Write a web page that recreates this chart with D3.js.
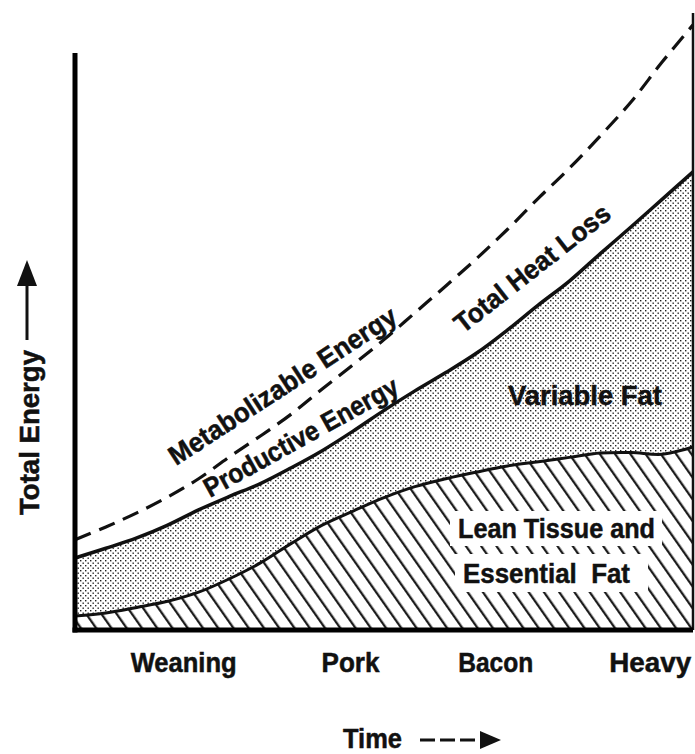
<!DOCTYPE html>
<html>
<head>
<meta charset="utf-8">
<script src="https://cdn.jsdelivr.net/npm/d3@7"></script>
<style>
  html, body { margin: 0; padding: 0; background: #fff; }
  svg { display: block; }
  text { font-family: "Liberation Sans", Arial, Helvetica, sans-serif; font-weight: bold; fill: #111; stroke: #111; stroke-width: 0.5; }
</style>
</head>
<body>
<svg id="chart" width="695" height="754"></svg>
<script>
// time axis (arbitrary units, 0 = birth, 100 = heavy market weight)
const time = [0, 5, 10, 15, 20, 25, 30, 35, 40, 45, 50, 55, 60, 65, 70, 75, 80, 85, 90, 95, 100];

// total energy (arbitrary units)
const metabolizableEnergy = [14.8, 16.9, 19.2, 21.8, 24.8, 28.4, 31.8, 35.4, 39.5, 43.5, 47.6,
  52.0, 56.4, 60.9, 65.7, 70.8, 75.7, 81.0, 86.6, 93.1, 99.2];
const productiveEnergy = [11.8, 13.4, 15.1, 17.2, 19.7, 21.9, 24.0, 26.6, 29.4, 32.6, 36.0,
  39.2, 42.2, 45.4, 49.2, 53.3, 57.2, 61.7, 66.1, 70.6, 75.1];
const leanTissue = [2.3, 2.8, 3.7, 4.7, 6.2, 8.4, 11.0, 14.2, 17.2, 19.5, 21.7,
  23.5, 24.8, 25.9, 26.9, 27.6, 28.3, 29.0, 29.1, 28.8, 30.0];

const stages = ["Weaning", "Pork", "Bacon", "Heavy"];
const stageTimes = [17.5, 44.5, 68, 93];

// layout
const x = d3.scaleLinear().domain([0, 100]).range([75, 693]);
const y = d3.scaleLinear().domain([0, 100]).range([630, 20]);
const axisTop = 53;
const fontSize = 27;
const stageWidths = [106, 58, 75, 82];

const svg = d3.select("#chart");
const data = time.map((t, i) => ({
  t, me: metabolizableEnergy[i], pe: productiveEnergy[i], lt: leanTissue[i]
}));

const defs = svg.append("defs");

// stipple for variable fat
const dots = defs.append("pattern")
  .attr("id", "dots")
  .attr("patternUnits", "userSpaceOnUse")
  .attr("width", 5).attr("height", 5);
dots.append("rect").attr("x", 0).attr("y", 0).attr("width", 1.4).attr("height", 1.4).attr("fill", "#222");
dots.append("rect").attr("x", 2.5).attr("y", 2.5).attr("width", 1.4).attr("height", 1.4).attr("fill", "#222");

// diagonal hatching for lean tissue
const hatch = defs.append("pattern")
  .attr("id", "hatch")
  .attr("patternUnits", "userSpaceOnUse")
  .attr("width", 12.5).attr("height", 12.5)
  .attr("patternTransform", "rotate(-35)");
hatch.append("line")
  .attr("x1", 6).attr("y1", -1).attr("x2", 6).attr("y2", 13.5)
  .attr("stroke", "#111").attr("stroke-width", 2.2);

const curve = d3.curveCatmullRom;

const fatArea = d3.area()
  .x(d => x(d.t)).y0(d => y(d.lt)).y1(d => y(d.pe)).curve(curve);
const leanArea = d3.area()
  .x(d => x(d.t)).y0(y(0)).y1(d => y(d.lt)).curve(curve);

svg.append("path").datum(data).attr("d", fatArea).attr("fill", "url(#dots)");
svg.append("path").datum(data).attr("d", leanArea).attr("fill", "url(#hatch)");

// white knock-out behind the lean tissue label
svg.append("rect").attr("x", 450).attr("y", 511).attr("width", 212).attr("height", 35).attr("fill", "#fff");
svg.append("rect").attr("x", 455).attr("y", 554).attr("width", 193).attr("height", 38).attr("fill", "#fff");

// curves
const line = key => d3.line().x(d => x(d.t)).y(d => y(d[key])).curve(curve);

svg.append("path").datum(data).attr("d", line("lt"))
  .attr("fill", "none").attr("stroke", "#111").attr("stroke-width", 3);
svg.append("path").datum(data).attr("d", line("pe"))
  .attr("fill", "none").attr("stroke", "#111").attr("stroke-width", 3.5);
svg.append("path").datum(data).attr("d", line("me"))
  .attr("fill", "none").attr("stroke", "#111").attr("stroke-width", 3.2)
  .attr("stroke-dasharray", "17,9");

// right frame edge
svg.append("line")
  .attr("x1", x(100)).attr("x2", x(100)).attr("y1", 13).attr("y2", y(0))
  .attr("stroke", "#111").attr("stroke-width", 2.5);

// axes
svg.append("line")
  .attr("x1", x(0)).attr("x2", x(0)).attr("y1", axisTop).attr("y2", y(0) + 2.5)
  .attr("stroke", "#000").attr("stroke-width", 5);
svg.append("line")
  .attr("x1", x(0) - 2.5).attr("x2", x(100)).attr("y1", y(0)).attr("y2", y(0))
  .attr("stroke", "#000").attr("stroke-width", 5);

const xAxis = d3.axisBottom(x)
  .tickValues(stageTimes)
  .tickSize(0)
  .tickFormat((d, i) => stages[i]);

const gx = svg.append("g").attr("transform", `translate(0,${y(0)})`).call(xAxis);
gx.select(".domain").remove();
gx.selectAll("text")
  .attr("y", 42).attr("dy", 0)
  .attr("font-size", fontSize)
  .attr("font-family", null)
  .attr("fill", "#111")
  .attr("textLength", (d, i) => stageWidths[i])
  .attr("lengthAdjust", "spacingAndGlyphs");

// labels
function label(txt, px, py, len, angle) {
  svg.append("text")
    .attr("transform", `translate(${px},${py}) rotate(${angle || 0})`)
    .attr("font-size", fontSize)
    .attr("textLength", len)
    .attr("lengthAdjust", "spacingAndGlyphs")
    .style("white-space", "pre")
    .text(txt);
}

label("Metabolizable Energy", 176, 466, 266, -33);
label("Productive Energy", 210, 498, 218, -29);
label("Total Heat Loss", 463, 334, 190, -38);
label("Variable Fat", 508, 405, 154);
label("Lean Tissue and", 458, 538, 197);
label("Essential  Fat", 463, 583, 167);

// axis titles with arrows
label("Total Energy", 39, 515, 165, -90);
svg.append("line")
  .attr("x1", 27).attr("x2", 27).attr("y1", 340).attr("y2", 282)
  .attr("stroke", "#111").attr("stroke-width", 3);
svg.append("path")
  .attr("d", "M27,260 L17,286 L37,286 Z")
  .attr("fill", "#111");

label("Time", 343, 748, 59);
svg.append("line")
  .attr("x1", 420).attr("x2", 484).attr("y1", 740).attr("y2", 740)
  .attr("stroke", "#111").attr("stroke-width", 3)
  .attr("stroke-dasharray", "15,5");
svg.append("path")
  .attr("d", "M501,740 L480,731 L480,749 Z")
  .attr("fill", "#111");
</script>
</body>
</html>
